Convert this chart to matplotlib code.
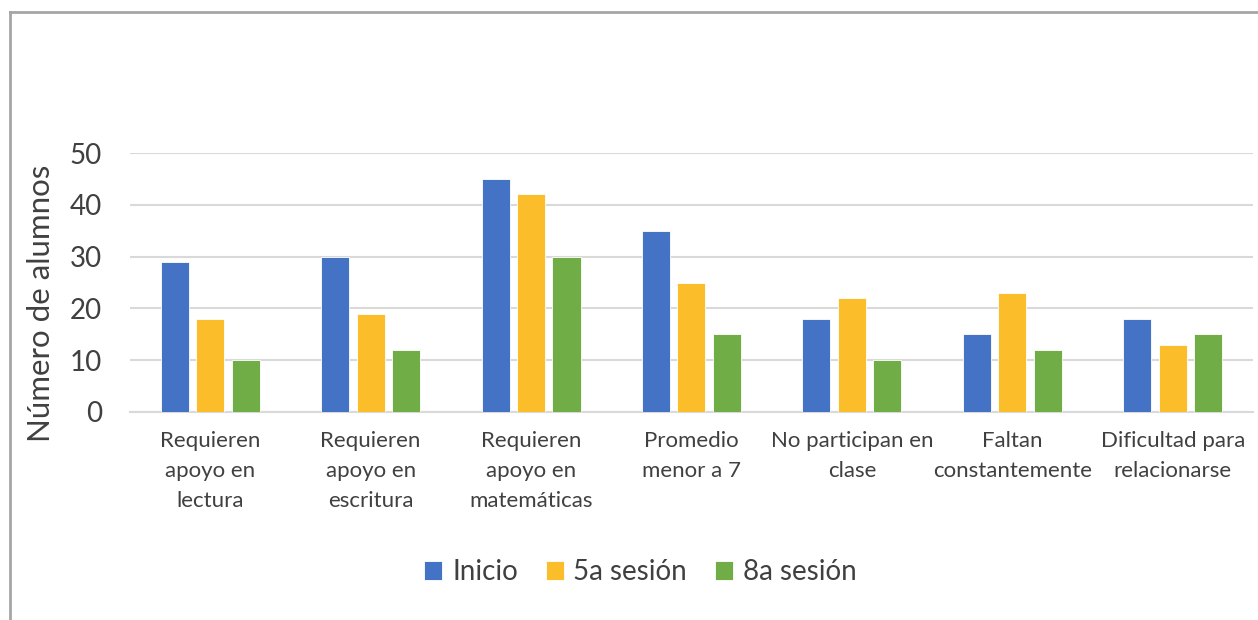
import numpy as np
import matplotlib.pyplot as plt
from matplotlib.lines import Line2D

plt.rcParams['font.family'] = ['Lato', 'DejaVu Sans']

categorias = ["Requieren\napoyo en\nlectura", "Requieren\napoyo en\nescritura",
              "Requieren\napoyo en\nmatemáticas", "Promedio\nmenor a 7",
              "No participan en\nclase", "Faltan\nconstantemente",
              "Dificultad para\nrelacionarse"]
series = ["Inicio", "5a sesión", "8a sesión"]
inicio = [29, 30, 45, 35, 18, 15, 18]
sesion5 = [18, 19, 42, 25, 22, 23, 13]
sesion8 = [10, 12, 30, 15, 10, 12, 15]
colores = ["#4472C4", "#FBBD2A", "#70AD47"]
texto = "#404040"

fig = plt.figure(figsize=(12.58, 6.2), dpi=100)
ax = fig.add_axes([0.1033, 0.3355, 0.8927, 0.4177])

x = np.arange(len(categorias))
paso = 0.221
ancho = 0.175
for i, (nombre, vals) in enumerate(zip(series, [inicio, sesion5, sesion8])):
    ax.bar(x + (i - 1) * paso, vals, ancho, color=colores[i], label=nombre,
           edgecolor="white", linewidth=0.6, zorder=3)

ax.set_xlim(-0.5, len(categorias) - 0.5)
ax.set_ylim(0, 50)
ax.set_yticks([0, 10, 20, 30, 40, 50])
ax.yaxis.grid(True, color="#D9D9D9", linewidth=1.5, zorder=0)
ax.tick_params(axis="y", length=0, pad=20, labelsize=20, labelcolor=texto)
ax.set_xticks(x)
ax.set_xticklabels(categorias, fontsize=16, color=texto, linespacing=1.6)
ax.tick_params(axis="x", length=0, pad=14)
for s in ["top", "right", "left"]:
    ax.spines[s].set_visible(False)
ax.spines["bottom"].set_color("#D9D9D9")
ax.spines["bottom"].set_linewidth(1.5)
ax.set_ylabel("Número de alumnos", fontsize=22.5, color=texto)
ax.yaxis.set_label_coords(-0.067, 0.42)

fig.legend(loc="center", bbox_to_anchor=(0.509, 0.077), ncol=3, frameon=False,
           fontsize=20, labelcolor=texto, handlelength=0.65, handleheight=0.65,
           handletextpad=0.35, columnspacing=1.0)

fig.add_artist(Line2D([10 / 1258, 10 / 1258], [0, 1 - 12 / 620], color="#A6A6A6",
                      linewidth=2, transform=fig.transFigure))
fig.add_artist(Line2D([10 / 1258, 1], [1 - 12 / 620, 1 - 12 / 620], color="#A6A6A6",
                      linewidth=2, transform=fig.transFigure))

fig.savefig("out.png", dpi=100)
